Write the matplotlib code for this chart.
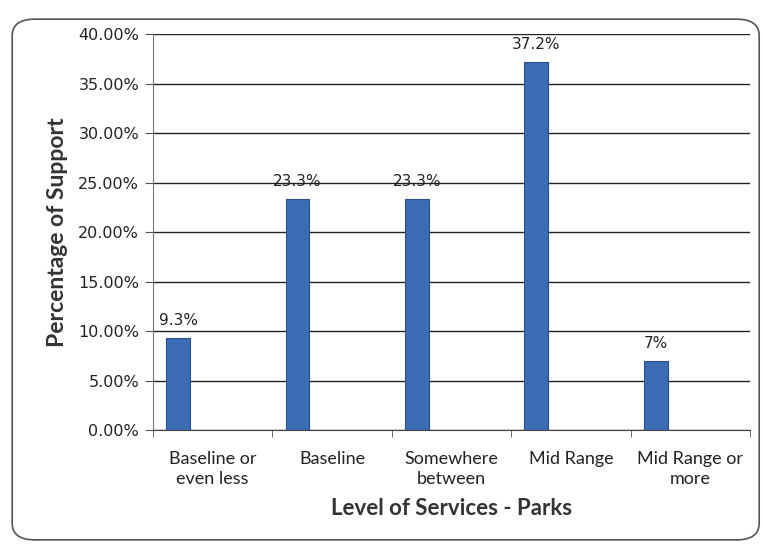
import matplotlib
matplotlib.use("Agg")
import matplotlib.pyplot as plt
from matplotlib.patches import FancyBboxPatch
from matplotlib.ticker import FuncFormatter, FixedLocator
import numpy as np

categories = ["Baseline or\neven less", "Baseline", "Somewhere\nbetween", "Mid Range", "Mid Range or\nmore"]
support = [9.3, 23.3, 23.3, 37.2, 7.0]
value_labels = ["9.3%", "23.3%", "23.3%", "37.2%", "7%"]
y_ticks = [0, 5, 10, 15, 20, 25, 30, 35, 40]

fig = plt.figure(figsize=(7.63, 5.47), dpi=100)
fig.patch.set_facecolor("white")

# rounded chart-area frame
frame = FancyBboxPatch((0.016, 0.013), 0.979, 0.952, boxstyle="round,pad=0,rounding_size=0.03",
                       transform=fig.transFigure, facecolor="none", edgecolor="#555555", lw=1.2)
fig.patches.append(frame)

ax = fig.add_axes([0.2005, 0.2139, 0.7825, 0.7239])
x = np.arange(len(categories))
bar_w = 0.2
offset = -0.29
ax.bar(x + offset, support, width=bar_w, color="#3a6bb3", edgecolor="#2a4f8a", lw=0.8, zorder=3)

for xi, v, lab in zip(x, support, value_labels):
    ax.text(xi + offset, v + 1.0, lab, ha="center", va="bottom", fontsize=11,
            family="DejaVu Sans", color="#222222", zorder=4)

ax.set_xlim(-0.5, len(categories) - 0.5)
ax.set_ylim(0, 40)
ax.yaxis.set_major_locator(FixedLocator(y_ticks))
ax.yaxis.set_major_formatter(FuncFormatter(lambda v, p: f"{v:.2f}%"))
ax.grid(axis="y", color="#222222", lw=1.0, zorder=0)

ax.set_xticks(x)
ax.set_xticklabels(categories, fontsize=13, family="Lato", linespacing=1.3, color="#222222")
ax.set_xticks(np.arange(-0.5, len(categories)), minor=True)
ax.tick_params(axis="x", which="major", length=0, pad=15)
ax.tick_params(axis="x", which="minor", length=5, color="#555555", direction="out")
ax.tick_params(axis="y", length=6, color="#555555", labelsize=11.5, pad=4)
for t in ax.get_yticklabels():
    t.set_family("DejaVu Sans")
    t.set_color("#222222")

for s in ["top", "right"]:
    ax.spines[s].set_visible(False)
ax.spines["left"].set_color("#777777")
ax.spines["bottom"].set_color("#444444")

ax.set_ylabel("Percentage of Support", fontsize=16.5, family="Lato", fontweight="bold",
              color="#333333", labelpad=7)
ax.set_xlabel("Level of Services - Parks", fontsize=16, family="Lato", fontweight="bold",
              color="#333333", labelpad=8)

fig.savefig("out.png", dpi=100, facecolor="white")
